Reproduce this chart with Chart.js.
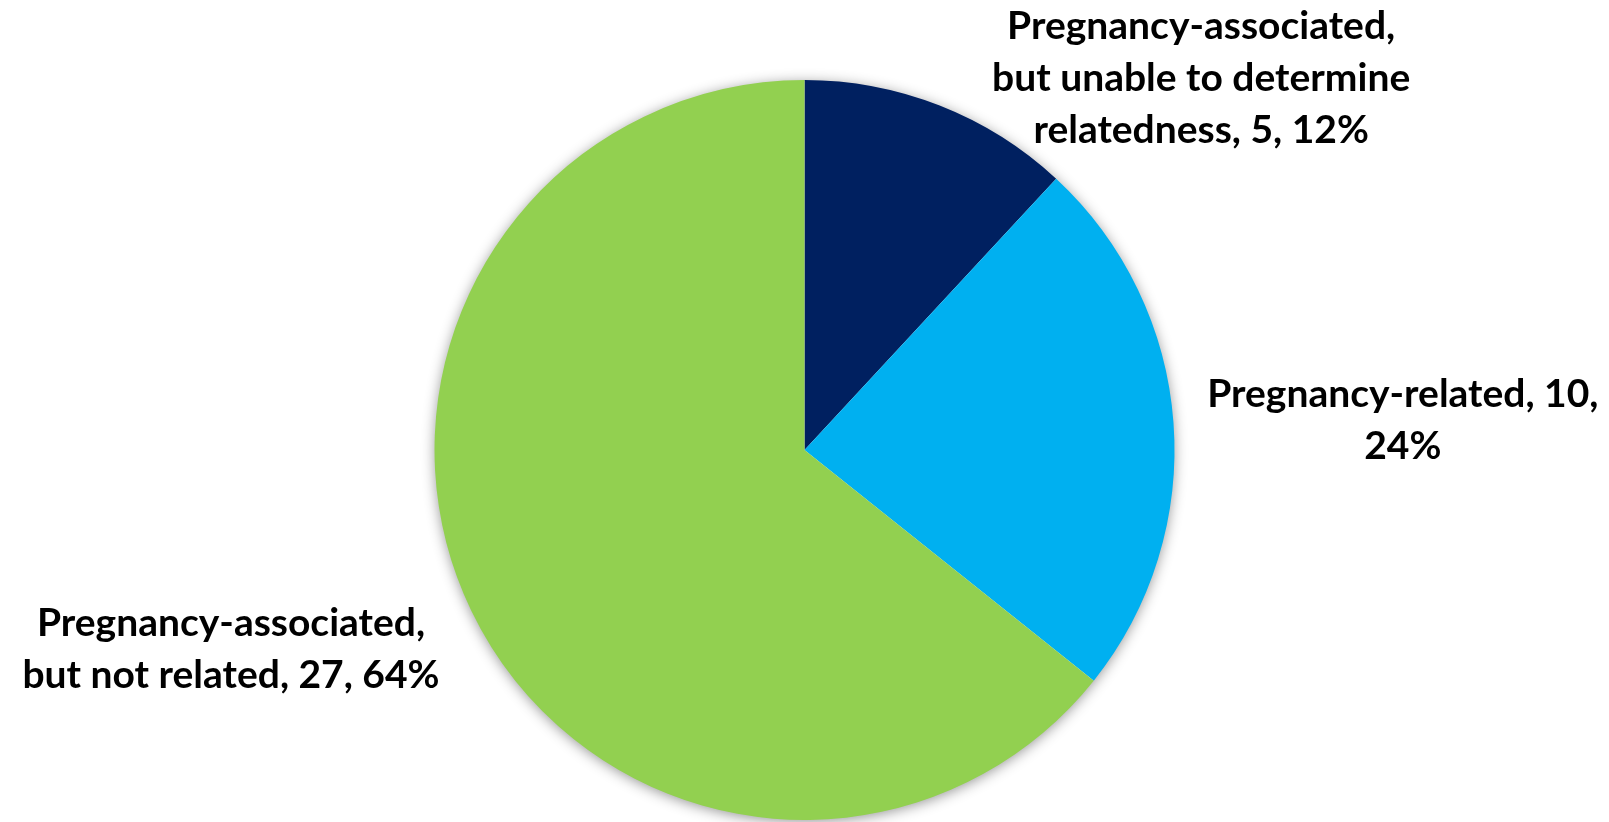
<!DOCTYPE html>
<html>
<head>
<meta charset="utf-8">
<script src="https://cdn.jsdelivr.net/npm/chart.js@4.4.0/dist/chart.umd.min.js"></script>
<style>
  html, body { margin: 0; padding: 0; background: #fff; }
  #wrap { width: 1609px; height: 822px; position: relative; }
</style>
</head>
<body>
<div id="wrap"><canvas id="pie"></canvas></div>
<script>
// categories, counts and slice colours
const categories = [
    ['Pregnancy-associated,', 'but unable to determine', 'relatedness'],
    ['Pregnancy-related'],
    ['Pregnancy-associated,', 'but not related']
];
const counts = [5, 10, 27];
const percents = [12, 24, 64];
const colors = ['#002060', '#00B0F0', '#92D050'];

// label placement relative to pie centre, in units of the radius
const labelSpots = [
    { dx: 1.072, dy: -1.003 },
    { dx: 1.617, dy: -0.08 },
    { dx: -1.55, dy: 0.538 }
];

const LABEL_FONT = 'bold 39px Lato, "Open Sans", sans-serif';
const LINE_H = 52;

// text for each label, broken the way the callouts wrap
function labelLines(i) {
    const name = categories[i];
    const tail = counts[i] + ', ' + percents[i] + '%';
    if (i === 1) return [name[0] + ', ' + counts[i] + ',', percents[i] + '%'];
    const lines = name.slice(0, -1);
    lines.push(name[name.length - 1] + ', ' + tail);
    return lines;
}

// soft drop shadow behind the whole pie
const pieShadow = {
    id: 'pieShadow',
    beforeDatasetsDraw(chart) {
        const arc = chart.getDatasetMeta(0).data[0];
        if (!arc) return;
        const ctx = chart.ctx;
        ctx.save();
        ctx.shadowColor = 'rgba(0,0,0,0.45)';
        ctx.shadowBlur = 14;
        ctx.shadowOffsetY = 2;
        ctx.fillStyle = '#ffffff';
        ctx.beginPath();
        ctx.arc(arc.x, arc.y, arc.outerRadius - 1, 0, Math.PI * 2);
        ctx.fill();
        ctx.restore();
    }
};

// callout text next to each slice
const sliceLabels = {
    id: 'sliceLabels',
    afterDatasetsDraw(chart) {
        const arcs = chart.getDatasetMeta(0).data;
        const ctx = chart.ctx;
        ctx.save();
        ctx.font = LABEL_FONT;
        ctx.fillStyle = '#000000';
        ctx.textAlign = 'center';
        ctx.textBaseline = 'middle';
        arcs.forEach((arc, i) => {
            const r = arc.outerRadius;
            const cx = arc.x + labelSpots[i].dx * r;
            const cy = arc.y + labelSpots[i].dy * r;
            const lines = labelLines(i);
            const top = cy - (lines.length - 1) * LINE_H / 2;
            lines.forEach((t, k) => ctx.fillText(t, cx, top + k * LINE_H));
        });
        ctx.restore();
    }
};

new Chart(document.getElementById('pie'), {
    type: 'pie',
    data: {
        labels: categories.map(c => c.join(' ')),
        datasets: [{
            data: counts,
            backgroundColor: colors,
            borderWidth: 0
        }]
    },
    options: {
        responsive: true,
        maintainAspectRatio: false,
        animation: false,
        layout: { padding: { top: 80, bottom: 2, left: 0, right: 0 } },
        plugins: {
            legend: { display: false },
            tooltip: { enabled: false }
        }
    },
    plugins: [pieShadow, sliceLabels]
});
</script>
</body>
</html>
